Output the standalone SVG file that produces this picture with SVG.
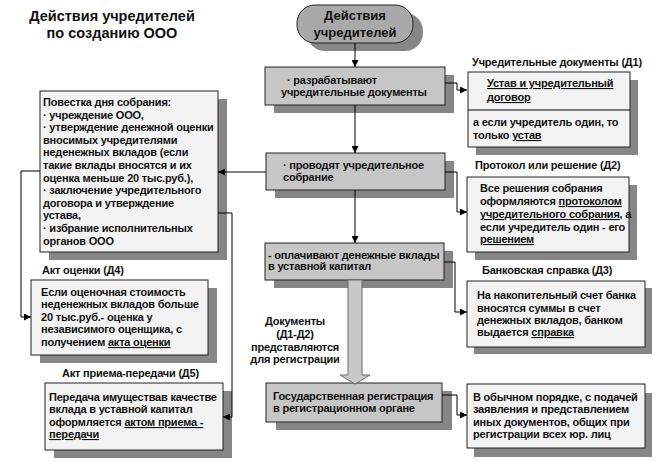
<svg xmlns="http://www.w3.org/2000/svg" width="656" height="461" viewBox="0 0 656 461">
<defs>
<marker id="ah" viewBox="0 0 8 8" refX="8" refY="4" markerWidth="7" markerHeight="7" markerUnits="userSpaceOnUse" orient="auto"><path d="M0,0 L8,4 L0,8 z" fill="#000"/></marker>
</defs>
<style>
.t{font-family:"Liberation Sans",Arial,sans-serif;font-weight:bold;font-size:11px;letter-spacing:-0.2px;fill:#111}
.ttl{font-family:"Liberation Sans",Arial,sans-serif;font-weight:bold;font-size:14.5px;fill:#111;text-anchor:middle}
.pt{font-family:"Liberation Sans",Arial,sans-serif;font-weight:bold;font-size:13px;fill:#111;text-anchor:middle}
.proc{fill:#c6c6c6;stroke:#222;stroke-width:1}
.doc{fill:#f3f3f3;stroke:#222;stroke-width:1}
.pill{fill:#a9a9a9;stroke:#222;stroke-width:1}
.sh{fill:#868686}
.ln{fill:none;stroke:#000;stroke-width:1}
.u{text-decoration:underline}
.mid{text-anchor:middle}
</style>
<rect width="656" height="461" fill="#fff"/>

<g id="title">
<text class="ttl" x="112" y="21">Действия учредителей</text>
<text class="ttl" x="112" y="38">по созданию ООО</text>
</g>

<g id="start">
<rect class="sh" x="307" y="13" width="116" height="38" rx="18"/>
<rect class="pill" x="297" y="5" width="116" height="38" rx="18"/>
<text class="pt" x="355" y="20">Действия</text>
<text class="pt" x="355" y="37">учредителей</text>
</g>

<g id="step1">
<rect class="sh" x="274" y="75" width="180" height="38"/>
<rect class="proc" x="265" y="67" width="180" height="38"/>
<text class="t" x="287" y="84">· разрабатывают</text>
<text class="t" x="281" y="96">учредительные документы</text>
</g>

<g id="step2">
<rect class="sh" x="275" y="161" width="179" height="37"/>
<rect class="proc" x="266" y="153" width="179" height="37"/>
<text class="t" x="283" y="169">· проводят учредительное</text>
<text class="t" x="283" y="181">собрание</text>
</g>

<g id="step3">
<rect class="sh" x="274" y="251" width="179" height="37"/>
<rect class="proc" x="265" y="243" width="179" height="37"/>
<text class="t" x="268" y="259">- оплачивают денежные вклады</text>
<text class="t" x="268" y="270">в уставной капитал</text>
</g>

<g id="step4">
<rect class="sh" x="276" y="391" width="176" height="39"/>
<rect class="proc" x="266" y="383" width="176" height="39"/>
<text class="t" x="273" y="400">Государственная  регистрация</text>
<text class="t" x="273" y="412">в регистрационном органе</text>
</g>

<g id="d1">
<text class="t" x="472" y="66">Учредительные документы (Д1)</text>
<rect class="sh" x="476" y="80" width="162" height="75"/>
<rect class="doc" x="468" y="72" width="162" height="75"/>
<line class="ln" x1="468" y1="110" x2="630" y2="110"/>
<text class="t" x="487" y="87"><tspan class="u">Устав и учредительный</tspan></text>
<text class="t" x="487" y="101"><tspan class="u">договор</tspan></text>
<text class="t" x="473" y="126">а если учредитель один, то</text>
<text class="t" x="473" y="139">только <tspan class="u">устав</tspan></text>
</g>

<g id="d2">
<text class="t" x="475" y="169">Протокол или решение (Д2)</text>
<rect class="sh" x="475" y="185" width="162" height="75"/>
<rect class="doc" x="467" y="177" width="162" height="75"/>
<text class="t" x="480" y="192">Все решения собрания</text>
<text class="t" x="480" y="205">оформляются <tspan class="u">протоколом</tspan></text>
<text class="t" x="480" y="218"><tspan class="u">учредительного собрания</tspan>, а</text>
<text class="t" x="480" y="231">если учредитель один - его</text>
<text class="t" x="480" y="243"><tspan class="u">решением</tspan></text>
</g>

<g id="d3">
<text class="t" x="482" y="274">Банковская справка (Д3)</text>
<rect class="sh" x="474" y="288" width="178" height="66"/>
<rect class="doc" x="467" y="281" width="178" height="66"/>
<text class="t" x="477" y="299">На накопительный счет банка</text>
<text class="t" x="477" y="312">вносятся суммы в счет</text>
<text class="t" x="477" y="324">денежных вкладов, банком</text>
<text class="t" x="477" y="336">выдается <tspan class="u">справка</tspan></text>
</g>

<g id="d6">
<rect class="sh" x="474" y="393" width="178" height="64"/>
<rect class="doc" x="467" y="384" width="178" height="64"/>
<text class="t" x="473" y="401">В обычном порядке, с подачей</text>
<text class="t" x="473" y="413">заявления и представлением</text>
<text class="t" x="473" y="426">иных документов, общих  при</text>
<text class="t" x="473" y="438">регистрации всех юр. лиц</text>
</g>

<g id="agenda">
<rect class="sh" x="49" y="99" width="178" height="161"/>
<rect class="doc" x="40" y="91" width="178" height="161"/>
<text class="t" x="43" y="106">Повестка дня собрания:</text>
<text class="t" x="43" y="118.6">· учреждение ООО,</text>
<text class="t" x="43" y="131.2">· утверждение денежной оценки</text>
<text class="t" x="43" y="143.8">вносимых учредителями</text>
<text class="t" x="43" y="156.4">неденежных вкладов (если</text>
<text class="t" x="43" y="169">такие вклады вносятся и их</text>
<text class="t" x="43" y="181.6">оценка меньше 20 тыс.руб.),</text>
<text class="t" x="43" y="194.2">· заключение учредительного</text>
<text class="t" x="43" y="206.8">договора и утверждение</text>
<text class="t" x="43" y="219.4">устава,</text>
<text class="t" x="43" y="232">· избрание исполнительных</text>
<text class="t" x="43" y="244.6">органов ООО</text>
</g>

<g id="d4">
<text class="t" x="42" y="274">Акт оценки (Д4)</text>
<rect class="sh" x="40" y="288" width="177" height="75"/>
<rect class="doc" x="31" y="280" width="177" height="75"/>
<text class="t" x="41" y="296">Если оценочная стоимость</text>
<text class="t" x="41" y="308">неденежных вкладов больше</text>
<text class="t" x="41" y="321">20 тыс.руб.- оценка у</text>
<text class="t" x="41" y="333">независимого оценщика,  с</text>
<text class="t" x="41" y="346">получением <tspan class="u">акта оценки</tspan></text>
</g>

<g id="d5">
<text class="t" x="62" y="377">Акт приема-передачи (Д5)</text>
<rect class="sh" x="54" y="391" width="178" height="67"/>
<rect class="doc" x="45" y="383" width="178" height="67"/>
<text class="t" x="49" y="401">Передача имуществав качестве</text>
<text class="t" x="49" y="413">вклада в уставной капитал</text>
<text class="t" x="49" y="426">оформляется <tspan class="u">актом приема -</tspan></text>
<text class="t" x="49" y="438"><tspan class="u">передачи</tspan></text>
</g>

<g id="connectors">
<path class="ln" d="M355,43 V67" marker-end="url(#ah)"/>
<path class="ln" d="M355,105 V153" marker-end="url(#ah)"/>
<path class="ln" d="M355,190 V243" marker-end="url(#ah)"/>
<path class="ln" d="M445,83 H457 V90 H467" marker-end="url(#ah)"/>
<path class="ln" d="M445,172 H457 V212 H467" marker-end="url(#ah)"/>
<path class="ln" d="M444,262 H455 V312 H467" marker-end="url(#ah)"/>
<path class="ln" d="M442,395 H457 V415 H467" marker-end="url(#ah)"/>
<path class="ln" d="M266,172 H218" marker-end="url(#ah)"/>
<path class="ln" d="M218,213 H232 V417 H223" marker-end="url(#ah)"/>
<path class="ln" d="M40,171 H21 V317 H31" marker-end="url(#ah)"/>
<path d="M348,280 H362 V375 H370 L355,384 L340,375 H348 Z" fill="#c8c8c8" stroke="#6a6a6a" stroke-width="1"/>
<text class="t mid" x="295" y="325">Документы</text>
<text class="t mid" x="295" y="338">(Д1-Д2)</text>
<text class="t mid" x="295" y="351">представляются</text>
<text class="t mid" x="295" y="363">для регистрации</text>
</g>
</svg>
